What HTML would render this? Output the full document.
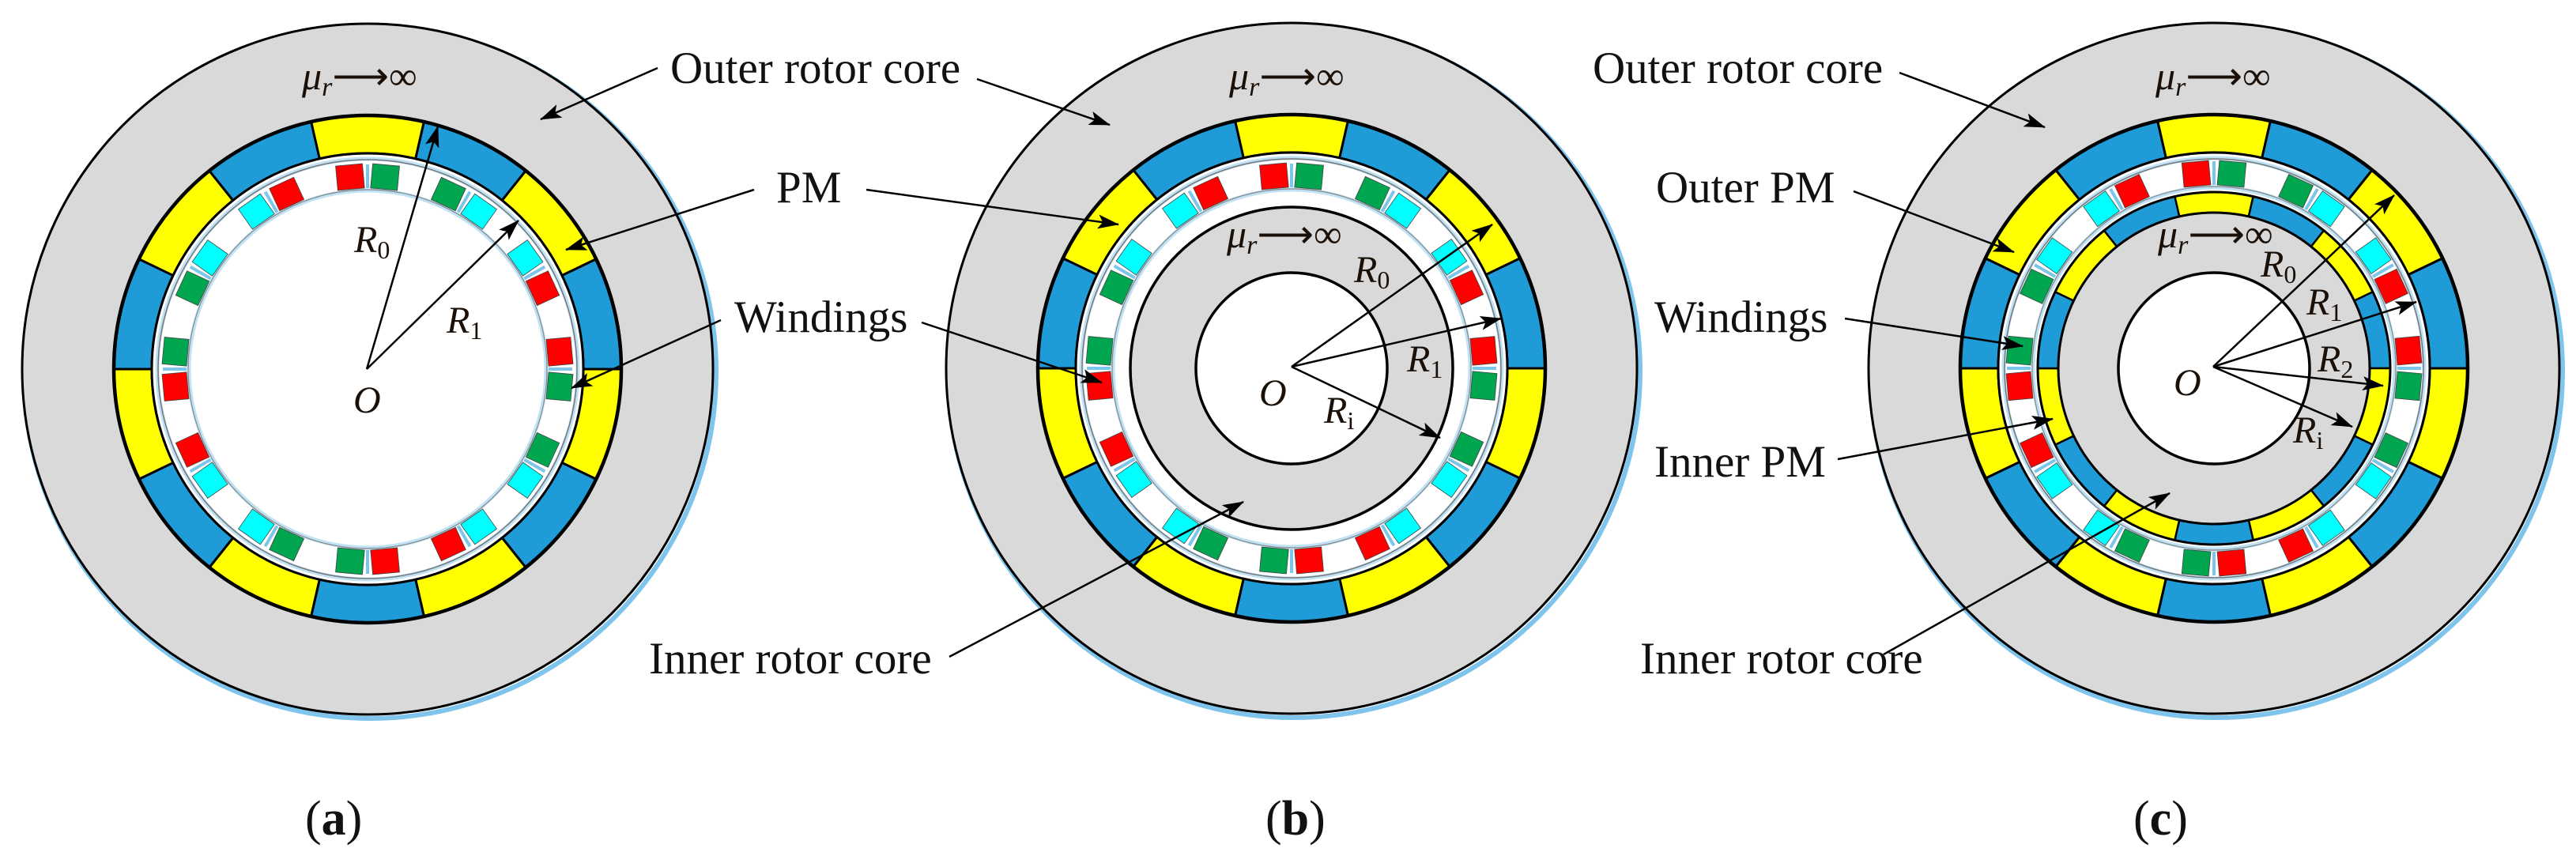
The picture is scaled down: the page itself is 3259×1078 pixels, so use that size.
<!DOCTYPE html>
<html><head><meta charset="utf-8"><style>
html,body{margin:0;padding:0;background:#fff;}
svg{display:block;font-family:"Liberation Serif","Times New Roman",serif;}
text,tspan{font-family:"Liberation Serif","Times New Roman",serif;}
.lb{font-size:57px;fill:#111;}
.it{font-style:italic;fill:#1a1008;}
</style></head><body>
<svg id="s" width="3259" height="1078" viewBox="0 0 3259 1078" xmlns="http://www.w3.org/2000/svg" font-family="Liberation Serif, serif">
<defs>
<marker id="ah" markerUnits="userSpaceOnUse" markerWidth="30" markerHeight="20" refX="26" refY="9" orient="auto">
<path d="M0,0 L27,9 L0,18 L6,9 Z" fill="#000"/>
</marker>
</defs>
<g id="shapes"></g>
<g stroke="#000" stroke-width="2.5" fill="none" marker-end="url(#ah)">
<line x1="464" y1="467" x2="554" y2="160"/>
<line x1="464" y1="467" x2="656" y2="279"/>
<line x1="1634" y1="464" x2="1888" y2="284"/>
<line x1="1634" y1="464" x2="1899" y2="403"/>
<line x1="1634" y1="464" x2="1822" y2="554"/>
<line x1="2800" y1="464" x2="3029" y2="247"/>
<line x1="2800" y1="464" x2="3057" y2="382"/>
<line x1="2800" y1="464" x2="3015" y2="488"/>
<line x1="2800" y1="464" x2="2976" y2="540"/>
<line x1="832" y1="86" x2="684" y2="151"/>
<line x1="1236" y1="100" x2="1404" y2="158"/>
<line x1="954" y1="240" x2="716" y2="316"/>
<line x1="1096" y1="240" x2="1415" y2="284"/>
<line x1="912" y1="405" x2="723" y2="491"/>
<line x1="1166" y1="408" x2="1394" y2="484"/>
<line x1="1201" y1="831" x2="1573" y2="635"/>
<line x1="2403" y1="92" x2="2587" y2="161"/>
<line x1="2345" y1="242" x2="2548" y2="319"/>
<line x1="2334" y1="403" x2="2559" y2="438"/>
<line x1="2325" y1="581" x2="2597" y2="530"/>
<line x1="2383" y1="828" x2="2745" y2="624"/>
</g>
<g font-family="Liberation Serif, serif">
<text class="lb" x="848" y="105">Outer rotor core</text>
<text class="lb" x="982" y="256">PM</text>
<text class="lb" x="929" y="420">Windings</text>
<text class="lb" x="821" y="852">Inner rotor core</text>
<text class="lb" x="2015" y="105">Outer rotor core</text>
<text class="lb" x="2095" y="256">Outer PM</text>
<text class="lb" x="2093" y="420">Windings</text>
<text class="lb" x="2093" y="603">Inner PM</text>
<text class="lb" x="2075" y="852">Inner rotor core</text>
</g>
<g class="it" font-size="50" font-family="Liberation Serif, serif">
<text x="382" y="113"><tspan>μ</tspan><tspan font-size="34" dy="8">r</tspan><tspan font-style="normal" dy="-8">⟶∞</tspan></text>
<text x="1555" y="113"><tspan>μ</tspan><tspan font-size="34" dy="8">r</tspan><tspan font-style="normal" dy="-8">⟶∞</tspan></text>
<text x="1552" y="313"><tspan>μ</tspan><tspan font-size="34" dy="8">r</tspan><tspan font-style="normal" dy="-8">⟶∞</tspan></text>
<text x="2727" y="113"><tspan>μ</tspan><tspan font-size="34" dy="8">r</tspan><tspan font-style="normal" dy="-8">⟶∞</tspan></text>
<text x="2730" y="313"><tspan>μ</tspan><tspan font-size="34" dy="8">r</tspan><tspan font-style="normal" dy="-8">⟶∞</tspan></text>
</g>
<g class="it" font-size="48" font-family="Liberation Serif, serif">
<text x="447" y="522">O</text>
<text x="448" y="319">R<tspan font-size="32" font-style="normal" dy="8">0</tspan></text>
<text x="565" y="421">R<tspan font-size="32" font-style="normal" dy="8">1</tspan></text>
<text x="1593" y="513">O</text>
<text x="1713" y="357">R<tspan font-size="32" font-style="normal" dy="8">0</tspan></text>
<text x="1780" y="470">R<tspan font-size="32" font-style="normal" dy="8">1</tspan></text>
<text x="1675" y="535">R<tspan font-size="32" font-style="normal" dy="8">i</tspan></text>
<text x="2750" y="500">O</text>
<text x="2860" y="350">R<tspan font-size="32" font-style="normal" dy="8">0</tspan></text>
<text x="2918" y="398">R<tspan font-size="32" font-style="normal" dy="8">1</tspan></text>
<text x="2932" y="470">R<tspan font-size="32" font-style="normal" dy="8">2</tspan></text>
<text x="2901" y="560">R<tspan font-size="32" font-style="normal" dy="8">i</tspan></text>
</g>
<g font-size="62" fill="#111" font-family="Liberation Serif, serif">
<text x="386" y="1056">(<tspan font-weight="bold">a</tspan>)</text>
<text x="1601" y="1056">(<tspan font-weight="bold">b</tspan>)</text>
<text x="2699" y="1056">(<tspan font-weight="bold">c</tspan>)</text>
</g>
</svg>
<script>
(function(){
var NS="http://www.w3.org/2000/svg",g=document.getElementById("shapes");
function el(t,a){var e=document.createElementNS(NS,t);for(var k in a)e.setAttribute(k,a[k]);g.appendChild(e);return e;}
function pt(cx,cy,r,deg){var a=deg*Math.PI/180;return [cx+r*Math.sin(a),cy-r*Math.cos(a)];}
function sector(cx,cy,r1,r2,a1,a2,fill,sw){
 var p1=pt(cx,cy,r2,a1),p2=pt(cx,cy,r2,a2),p3=pt(cx,cy,r1,a2),p4=pt(cx,cy,r1,a1);
 el("path",{d:"M"+p1+" A"+r2+","+r2+" 0 0 1 "+p2+" L"+p3+" A"+r1+","+r1+" 0 0 0 "+p4+"Z",fill:fill,stroke:"#000","stroke-width":sw});
}
function ring(cx,cy,r1,r2,sw){
 var w=360/14;
 for(var i=0;i<14;i++){sector(cx,cy,r1,r2,i*w-w/2,i*w+w/2,i%2?"#1f9bd7":"#ffff00",sw);}
}
function slots(cx,cy,rc){
 var cols=["#ff0000","#00a54f","#00a54f","#00ffff","#00ffff","#ff0000"];
 for(var p=0;p<12;p++){
  var base=p*30;
  var q=pt(cx,cy,rc,base);
  el("rect",{x:-2,y:-15,width:4,height:30,fill:"#7cc6ea",transform:"translate("+q[0]+","+q[1]+") rotate("+base+")"});
  for(var s=0;s<2;s++){
   var idx=(p*2+s)%6;var ang=base+(s?5.2:-5.2);var c=pt(cx,cy,rc,ang);
   el("rect",{x:-17,y:-15.5,width:34,height:31,fill:cols[idx],stroke:"#444","stroke-width":0.8,transform:"translate("+c[0]+","+c[1]+") rotate("+ang+")"});
  }
 }
}
function panel(cx,cy,type){
 el("circle",{cx:cx+3,cy:cy+4,r:438,fill:"none",stroke:"#7fc4ec","stroke-width":6});
 el("circle",{cx:cx,cy:cy,r:437,fill:"#d9d9d9",stroke:"#000","stroke-width":3});
 ring(cx,cy,273,321,3);
 el("circle",{cx:cx,cy:cy,r:321,fill:"none",stroke:"#000","stroke-width":4.5});
 el("circle",{cx:cx,cy:cy,r:273,fill:"#fff",stroke:"#000","stroke-width":3});
 el("circle",{cx:cx,cy:cy,r:266,fill:"none",stroke:"#bfe2f4","stroke-width":5});
 el("circle",{cx:cx,cy:cy,r:265,fill:"none",stroke:"#777","stroke-width":1.5});
 var rc=type=="c"?247:244;
 el("circle",{cx:cx,cy:cy,r:rc-18,fill:"none",stroke:"#bfe2f4","stroke-width":5});
 el("circle",{cx:cx,cy:cy,r:rc-17,fill:"none",stroke:"#888","stroke-width":1.2});
 slots(cx,cy,rc);
 if(type=="b"){
  el("circle",{cx:cx,cy:cy,r:204,fill:"#d9d9d9",stroke:"#000","stroke-width":3.5});
  el("circle",{cx:cx,cy:cy,r:121,fill:"#fff",stroke:"#000","stroke-width":3.5});
 }
 if(type=="c"){
  ring(cx,cy,197,223,2.5);
  el("circle",{cx:cx,cy:cy,r:223,fill:"none",stroke:"#000","stroke-width":3});
  el("circle",{cx:cx,cy:cy,r:197,fill:"#d9d9d9",stroke:"#000","stroke-width":3});
  el("circle",{cx:cx,cy:cy,r:121,fill:"#fff",stroke:"#000","stroke-width":3.5});
 }
}
panel(465,467,"a");panel(1634,466,"b");panel(2801,466,"c");
})();
</script>
</body></html>
